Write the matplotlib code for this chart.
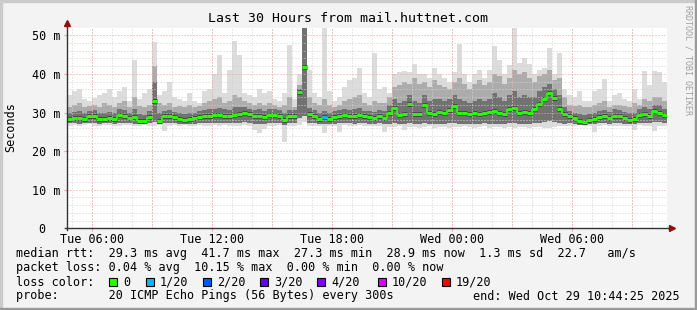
import numpy as np
import matplotlib
matplotlib.use("Agg")
import matplotlib.pyplot as plt
from matplotlib.patches import Rectangle

# ---------------- data (15-minute bins over 30 hours, ms) ----------------
med = [28.4, 28.5, 28.6, 28.3, 29.0, 29.1, 28.4, 28.3, 28.5, 28.2, 29.4, 29.2, 28.6, 28.8, 27.8, 27.7, 28.8, 33.0, 27.9, 29.1,
       29.0, 28.8, 28.3, 28.1, 28.2, 28.6, 28.9, 29.1, 29.2, 29.3, 29.4, 29.2, 29.1, 29.3, 29.6, 29.8, 29.5, 29.0, 29.2, 28.9,
       29.3, 29.4, 29.2, 28.0, 29.0, 29.2, 35.3, 41.7, 29.6, 29.2, 28.2, 28.8, 28.3, 28.9, 29.2, 29.4, 29.0, 29.1, 29.3, 29.0,
       28.8, 28.6, 29.0, 28.7, 30.0, 31.2, 29.4, 29.6, 32.3, 29.7, 29.5, 32.0, 30.0, 29.5, 30.2, 29.8, 30.6, 31.6, 30.0, 29.8,
       29.5, 29.8, 29.6, 29.9, 30.1, 30.3, 29.8, 29.6, 30.9, 31.2, 30.0, 30.1, 29.9, 30.8, 32.2, 33.5, 35.0, 33.8, 31.0, 29.5,
       29.0, 28.5, 27.8, 27.6, 28.0, 28.2, 28.9, 29.0, 28.7, 29.2, 29.0, 28.6, 28.1, 28.4, 29.3, 29.6, 29.2, 30.4, 30.0, 29.3]

hi = [34.5, 35.5, 36.0, 33.5, 33.0, 33.8, 34.5, 35.0, 36.0, 34.0, 35.5, 36.5, 33.0, 43.5, 33.5, 35.0, 36.0, 48.3, 34.5, 35.5,
      38.0, 34.0, 33.5, 33.0, 35.0, 33.0, 32.5, 35.5, 36.0, 40.0, 45.0, 35.0, 41.0, 48.5, 45.0, 35.0, 34.5, 34.0, 36.0, 35.0,
      35.5, 33.5, 33.0, 35.0, 47.5, 33.5, 40.0, 60.0, 41.0, 35.0, 34.0, 52.0, 35.5, 33.0, 34.0, 36.5, 38.5, 39.0, 41.5, 35.0,
      34.0, 45.5, 36.0, 36.5, 35.0, 40.0, 40.5, 40.7, 40.5, 42.5, 40.0, 40.0, 39.0, 41.5, 40.0, 39.0, 38.0, 40.5, 47.7, 40.0,
      38.0, 40.0, 41.0, 39.0, 41.0, 47.3, 43.5, 40.0, 42.4, 53.0, 42.8, 44.0, 42.5, 40.0, 41.0, 41.5, 46.6, 40.0, 45.4, 36.0,
      34.5, 34.0, 35.5, 33.0, 33.0, 35.5, 36.0, 38.6, 33.0, 34.5, 35.0, 33.5, 33.0, 36.0, 33.5, 40.8, 37.0, 40.8, 40.5, 38.0]

q_hi = [31.5, 32.0, 32.5, 31.5, 31.8, 32.0, 31.5, 32.5, 32.0, 31.5, 32.5, 33.0, 31.5, 34.0, 31.8, 31.5, 32.0, 42.0, 32.5, 32.0,
        32.5, 31.5, 31.8, 31.5, 32.0, 31.5, 31.8, 32.5, 33.0, 33.5, 34.0, 32.5, 33.0, 34.5, 34.0, 33.0, 32.5, 32.0, 32.5, 32.0,
        32.5, 32.0, 31.5, 32.0, 34.0, 31.5, 37.0, 60.0, 34.0, 32.5, 32.0, 33.5, 32.0, 31.5, 32.0, 33.0, 33.5, 34.0, 34.5, 32.5,
        32.0, 33.0, 32.5, 32.5, 34.0, 36.5, 37.0, 38.0, 37.5, 39.0, 37.5, 38.0, 36.5, 38.5, 37.0, 36.5, 36.0, 38.0, 39.0, 37.5,
        36.0, 37.5, 38.5, 37.0, 38.0, 40.0, 39.5, 37.5, 39.0, 41.0, 40.0, 40.5, 39.0, 38.0, 39.5, 40.0, 41.0, 38.5, 39.0, 34.0,
        32.0, 31.8, 32.0, 31.5, 31.5, 32.0, 32.5, 33.0, 31.5, 32.0, 32.0, 31.8, 31.5, 32.5, 32.0, 33.5, 33.0, 34.0, 34.0, 33.0]

d_hi = [30.0, 30.2, 30.3, 29.8, 30.5, 30.6, 30.0, 29.9, 30.2, 29.8, 30.8, 30.6, 30.0, 31.0, 29.5, 29.4, 30.3, 38.0, 29.8, 30.5,
        30.6, 30.2, 29.8, 29.6, 29.8, 30.0, 30.3, 30.6, 30.8, 31.0, 31.2, 30.8, 30.7, 31.5, 31.3, 31.5, 31.0, 30.6, 30.8, 30.4,
        30.8, 30.8, 30.6, 29.8, 30.6, 30.6, 36.0, 60.0, 31.2, 30.6, 29.8, 30.3, 29.8, 30.4, 30.7, 31.0, 30.6, 30.8, 31.2, 30.5,
        30.3, 30.2, 30.6, 30.3, 32.0, 33.5, 32.5, 33.0, 34.5, 33.0, 32.5, 34.5, 33.0, 33.5, 33.5, 33.0, 33.5, 34.5, 33.5, 33.0,
        32.5, 33.0, 33.5, 33.0, 33.5, 35.0, 34.0, 33.0, 34.5, 35.5, 34.0, 34.5, 34.0, 34.0, 35.5, 36.5, 37.5, 36.0, 34.5, 31.5,
        30.5, 30.0, 29.5, 29.3, 29.6, 29.8, 30.5, 30.6, 30.2, 30.8, 30.6, 30.2, 29.8, 30.0, 31.0, 31.5, 31.0, 32.0, 32.0, 31.0]

q_lo = [27.2, 27.3, 27.1, 27.2, 27.4, 27.2, 27.1, 27.3, 27.2, 27.1, 27.3, 27.4, 27.2, 27.1, 26.9, 26.9, 27.2, 27.5, 27.0, 27.2,
        27.3, 27.2, 27.0, 26.9, 27.0, 27.1, 27.2, 27.3, 27.3, 27.2, 27.4, 27.3, 27.2, 27.3, 27.4, 27.5, 27.3, 27.1, 27.0, 27.1,
        27.3, 27.4, 27.2, 26.8, 27.2, 27.3, 28.5, 29.0, 27.4, 27.2, 26.9, 27.1, 27.0, 27.1, 27.2, 27.3, 27.2, 27.1, 27.3, 27.2,
        27.1, 27.0, 27.2, 27.0, 27.1, 27.2, 27.0, 27.1, 27.2, 27.0, 27.1, 27.2, 27.0, 26.9, 27.1, 27.0, 27.2, 27.3, 27.1, 27.0,
        27.0, 27.1, 27.0, 27.2, 27.1, 27.0, 27.1, 27.0, 27.2, 27.3, 27.1, 27.0, 27.1, 27.2, 27.4, 27.6, 27.8, 27.5, 27.2, 27.1,
        27.2, 27.0, 26.8, 26.7, 26.9, 27.0, 27.2, 27.3, 27.1, 27.3, 27.2, 27.0, 26.9, 27.0, 27.3, 27.4, 27.3, 27.6, 27.5, 27.3]

lo = [26.6, 26.8, 26.5, 26.7, 26.9, 26.6, 26.5, 26.7, 26.8, 26.6, 26.4, 26.7, 26.8, 26.5, 26.6, 26.7, 26.5, 26.4, 26.8, 25.2,
      26.5, 26.7, 26.6, 26.8, 26.5, 26.6, 26.7, 26.5, 26.6, 26.8, 26.5, 26.7, 26.6, 26.4, 26.6, 26.7, 26.5, 25.5, 24.8, 25.6,
      26.6, 26.5, 26.7, 22.4, 26.6, 26.5, 26.8, 27.5, 26.6, 26.5, 26.4, 24.8, 26.6, 26.5, 25.0, 26.7, 26.6, 26.5, 26.7, 26.6,
      26.5, 26.4, 26.6, 25.0, 26.3, 26.2, 26.4, 25.5, 26.2, 26.3, 26.0, 26.2, 26.4, 26.1, 26.3, 26.2, 26.0, 26.3, 26.2, 26.4,
      26.3, 26.1, 26.2, 26.4, 26.0, 26.2, 26.3, 26.1, 26.2, 26.0, 26.3, 26.2, 26.1, 26.3, 26.2, 26.0, 26.1, 26.3, 26.4, 26.5,
      26.6, 26.5, 26.7, 26.4, 26.5, 25.0, 26.6, 26.7, 26.5, 26.6, 26.4, 26.5, 26.6, 25.5, 26.7, 26.5, 26.6, 25.2, 26.5, 26.6]

loss = [0] * 120
loss[51] = 1

loss_levels = ["0", "1/20", "2/20", "3/20", "4/20", "10/20", "19/20"]
loss_values = [0, 1, 2, 3, 4, 10, 19]
loss_colors = ["#26ff00", "#00b8ff", "#0059ff", "#5e00ff", "#7e00ff", "#dd00ff", "#ff0000"]

tick_labels = ["Tue 06:00", "Tue 12:00", "Tue 18:00", "Wed 00:00", "Wed 06:00"]
y_ticks = [0, 10, 20, 30, 40, 50]
y_labels = ["0  ", "10 m", "20 m", "30 m", "40 m", "50 m"]

title = "Last 30 Hours from mail.huttnet.com"
legend_lines = [
    "median rtt:  29.3 ms avg  41.7 ms max  27.3 ms min  28.9 ms now  1.3 ms sd  22.7   am/s",
    "packet loss: 0.04 % avg  10.15 % max  0.00 % min  0.00 % now",
]
probe_text = "probe:       20 ICMP Echo Pings (56 Bytes) every 300s"
end_text = "end: Wed Oct 29 10:44:25 2025"

# ---------------- figure ----------------
W, H = 697, 310
fig = plt.figure(figsize=(W / 100, H / 100), dpi=100)
fig.patch.set_facecolor("#f3f3f3")
MONO = "DejaVu Sans Mono"

def fx(px):
    return px / W

def fy(py):
    return 1 - py / H

# border shading
fig.patches.append(Rectangle((0, fy(2)), 1, 2 / H, transform=fig.transFigure, color="#cbcbcb", zorder=0))
fig.patches.append(Rectangle((0, 0), 2 / W, 1, transform=fig.transFigure, color="#cbcbcb", zorder=0))
fig.patches.append(Rectangle((0, 0), 1, 2 / H, transform=fig.transFigure, color="#9a9a9a", zorder=0))
fig.patches.append(Rectangle((1 - 2 / W, 0), 2 / W, 1, transform=fig.transFigure, color="#9a9a9a", zorder=0))

x0, x1, ytop, ybot = 67, 667, 28, 228.3
ax = fig.add_axes([fx(x0), fy(ybot), (x1 - x0) / W, (ybot - ytop) / H])
ax.set_facecolor("white")

n = len(med)
edges = np.arange(n + 1) * 0.25
def ext(a):
    a = list(a)
    return np.array(a + [a[-1]])

ax.fill_between(edges, ext(lo), ext(hi), step="post", color="#dcdcdc", lw=0, zorder=1)
ax.fill_between(edges, ext(q_lo), ext(q_hi), step="post", color="#acacac", lw=0, zorder=2)
ax.fill_between(edges, ext(q_lo), ext(d_hi), step="post", color="#727272", lw=0, zorder=3)
ax.hlines(med, edges[:-1], edges[1:], color="#454545", lw=3.5, zorder=3.5)

# grid (drawn on top of the smoke like rrdtool)
start_offset = 1 + 15 / 60 + 35 / 3600   # 04:44:25 -> 06:00
minor_x = np.arange(start_offset - 1, 30, 1.0)
major_x = np.arange(start_offset, 30, 3.0)
label_x = np.arange(start_offset, 30, 6.0)
gkw = dict(lw=0.72, ls=(0, (1, 2)), zorder=4)
for xv in minor_x:
    ax.axvline(xv, color="#d2d2d2", **gkw)
for yv in np.arange(2, 52, 2):
    if yv % 10:
        ax.axhline(yv, color="#d2d2d2", **gkw)
for xv in major_x:
    ax.axvline(xv, color="#f0a0a0", **gkw)
for yv in y_ticks[1:]:
    ax.axhline(yv, color="#f0a0a0", **gkw)

# median line colored by loss (one short segment per step, thin joins on small steps)
cmap = dict(zip(loss_values, loss_colors))
seg_colors = [cmap[l] for l in loss]
for i in range(1, n):
    if abs(med[i] - med[i - 1]) < 2.5:
        ax.vlines(edges[i], min(med[i], med[i - 1]), max(med[i], med[i - 1]),
                  color=seg_colors[i], lw=1.2, zorder=6)
ax.hlines(med, edges[:-1], edges[1:], colors=seg_colors, lw=2.2, zorder=6)

ax.set_xlim(0, 30)
ax.set_ylim(0, (ybot - ytop) / 3.86)
for s in ax.spines.values():
    s.set_visible(False)

ax.set_xticks(label_x)
ax.set_xticklabels(tick_labels, fontfamily=MONO, fontsize=8.5)
ax.set_yticks(y_ticks)
ax.set_yticklabels(y_labels, fontfamily=MONO, fontsize=8.5)
ax.tick_params(axis="x", length=2, width=0.8, color="#f0a0a0", pad=1.5)
ax.tick_params(axis="y", length=2, width=0.8, color="#f0a0a0", pad=3)

# axes with arrows
ax.plot([0, 0], [-0.01, 1.02], transform=ax.transAxes, color="#333333", lw=1, clip_on=False, zorder=7)
ax.plot([-0.004, 1.005], [0, 0], transform=ax.transAxes, color="#333333", lw=1, clip_on=False, zorder=7)
ax.plot([0], [1.025], marker="^", ms=5, color="#8b1010", transform=ax.transAxes, clip_on=False, zorder=8)
ax.plot([1.008], [0], marker=">", ms=5, color="#8b1010", transform=ax.transAxes, clip_on=False, zorder=8)

# texts
fig.text(fx(348), fy(19), title, ha="center", va="center", fontfamily=MONO, fontsize=9.5)
fig.text(fx(11), fy(127), "Seconds", ha="center", va="center", rotation=90, fontfamily=MONO, fontsize=8.5)
fig.text(fx(688), fy(60), "RRDTOOL / TOBI OETIKER", ha="center", va="center", rotation=270,
         fontfamily=MONO, fontsize=6, color="#a0a0a0")

lx = 16
fig.text(fx(lx), fy(254), legend_lines[0], ha="left", va="center", fontfamily=MONO, fontsize=8.5)
fig.text(fx(lx), fy(268), legend_lines[1], ha="left", va="center", fontfamily=MONO, fontsize=8.5)
fig.text(fx(lx), fy(282), "loss color:", ha="left", va="center", fontfamily=MONO, fontsize=8.5)
box_x = [109, 146, 203, 260, 317, 378, 442]
for bx, lab, col in zip(box_x, loss_levels, loss_colors):
    fig.patches.append(Rectangle((fx(bx), fy(286)), 8 / W, 8 / H, transform=fig.transFigure,
                                 facecolor=col, edgecolor="black", lw=0.8, zorder=3))
    fig.text(fx(bx + 14), fy(282), lab, ha="left", va="center", fontfamily=MONO, fontsize=8.5)
fig.text(fx(lx), fy(296), probe_text, ha="left", va="center", fontfamily=MONO, fontsize=8.5)
fig.text(fx(680), fy(296), end_text, ha="right", va="center", fontfamily=MONO, fontsize=8.5)

fig.savefig("out.png", dpi=100, facecolor=fig.get_facecolor())
